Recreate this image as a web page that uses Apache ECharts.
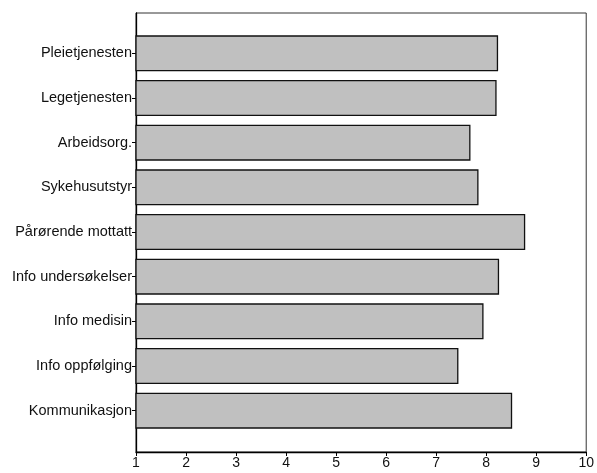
<!DOCTYPE html>
<html>
<head>
<meta charset="utf-8">
<script src="https://cdn.jsdelivr.net/npm/echarts@6/dist/echarts.min.js"></script>
<style>html,body{margin:0;padding:0;background:#fff}#c{width:597px;height:473px}</style>
</head>
<body>
<div id="c"></div>
<script>
const categories = ["Pleietjenesten","Legetjenesten","Arbeidsorg.","Sykehusutstyr","Pårørende mottatt","Info undersøkelser","Info medisin","Info oppfølging","Kommunikasjon"];
const values = [8.21, 8.18, 7.66, 7.82, 8.75, 8.23, 7.92, 7.42, 8.49];
const xTicks = [1,2,3,4,5,6,7,8,9,10];

const chart = echarts.init(document.getElementById('c'), null, {renderer:'canvas'});
const font = 'Liberation Sans, Arial, sans-serif';
chart.setOption({
  animation:false,
  backgroundColor:'#fff',
  grid:[
    {left:136, right:9, top:13, bottom:21, show:true, borderColor:'#333', borderWidth:1, backgroundColor:'transparent'},
    {left:136, right:9, top:31, bottom:40}
  ],
  xAxis:[
    {gridIndex:0, type:'value', min:xTicks[0], max:xTicks[xTicks.length-1], interval:1,
     axisLine:{show:true, lineStyle:{color:'#000', width:1.3}},
     axisTick:{show:true, length:4, lineStyle:{color:'#000'}},
     axisLabel:{color:'#111', fontFamily:font, fontSize:14, margin:4},
     splitLine:{show:false}},
    {gridIndex:1, type:'value', min:xTicks[0], max:xTicks[xTicks.length-1], show:false, splitLine:{show:false}}
  ],
  yAxis:[
    {gridIndex:0, type:'value', min:0, max:1, axisLine:{show:true, lineStyle:{color:'#000', width:1.3}},
     axisTick:{show:false}, axisLabel:{show:false}, splitLine:{show:false}},
    {gridIndex:1, type:'category', data:categories, inverse:true,
     axisLine:{show:false},
     axisTick:{show:true, alignWithLabel:true, length:4, lineStyle:{color:'#000'}},
     axisLabel:{color:'#111', fontFamily:font, fontSize:14.5, margin:4},
     splitLine:{show:false}}
  ],
  series:[{
    type:'bar', xAxisIndex:1, yAxisIndex:1, data:values, barWidth:36,
    itemStyle:{color:'#c0c0c0', borderColor:'#111', borderWidth:1.3}
  }]
});
</script>
</body>
</html>
